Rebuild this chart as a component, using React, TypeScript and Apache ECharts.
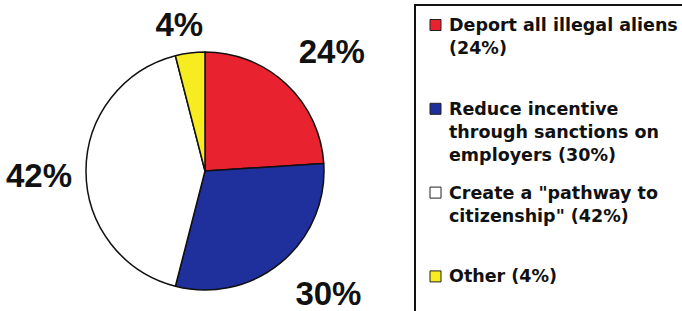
import React, { useEffect, useRef } from "react";
import * as echarts from "echarts";

const categories = [
  "Deport all illegal aliens",
  "Reduce incentive through sanctions on employers",
  'Create a "pathway to citizenship"',
  "Other",
];
const values = [24, 30, 42, 4];
const legendLines = [
  ["Deport all illegal aliens", "(24%)"],
  ["Reduce incentive", "through sanctions on", "employers (30%)"],
  ['Create a "pathway to', 'citizenship" (42%)'],
  ["Other (4%)"],
];
const colors = ["#e8222f", "#1f2f9c", "#ffffff", "#f7ec1f"];
const labelOffsets = [
  [-33, -22],
  [-30, 21],
  [36, 4],
  [50, -14],
];

export default function App() {
  const ref = useRef<HTMLDivElement>(null);
  useEffect(() => {
    if (!ref.current) return;
    const chart = echarts.init(ref.current, null, { renderer: "svg" });
    const step = 83.8;
    const graphic: any[] = [
      {
        type: "rect",
        shape: { x: 415, y: 5, width: 300, height: 320 },
        style: { fill: "none", stroke: "#111", lineWidth: 2 },
        silent: true,
      },
    ];
    legendLines.forEach((lines, i) => {
      graphic.push({
        type: "rect",
        shape: { x: 430, y: 19.5 + step * i, width: 11, height: 11 },
        style: { fill: colors[i], stroke: "#222", lineWidth: 1 },
        silent: true,
      });
      graphic.push({
        type: "text",
        x: 449,
        y: 13.5 + step * i,
        style: {
          text: lines.join("\n"),
          font: 'bold 17.5px "DejaVu Sans"',
          lineHeight: 23,
          fill: "#111",
          verticalAlign: "top",
          align: "left",
        },
        silent: true,
      });
    });
    chart.setOption({
      animation: false,
      backgroundColor: "#ffffff",
      graphic,
      series: [
        {
          type: "pie",
          center: [205, 171],
          radius: 119,
          startAngle: 90,
          clockwise: true,
          silent: true,
          data: categories.map((name, i) => ({
            name,
            value: values[i],
            itemStyle: { color: colors[i] },
            label: { offset: labelOffsets[i] },
          })),
          itemStyle: { borderColor: "#111", borderWidth: 1.5 },
          label: {
            show: true,
            position: "outside",
            formatter: "{c}%",
            fontSize: 33,
            fontWeight: "bold",
            fontFamily: '"Liberation Sans", Arial, sans-serif',
            color: "#111",
            overflow: "none",
          },
          labelLine: { show: false },
          emphasis: { disabled: true },
        },
      ],
    });
    return () => chart.dispose();
  }, []);
  return (
    <div
      ref={ref}
      style={{ position: "absolute", left: 0, top: 0, width: 682, height: 311 }}
    />
  );
}
